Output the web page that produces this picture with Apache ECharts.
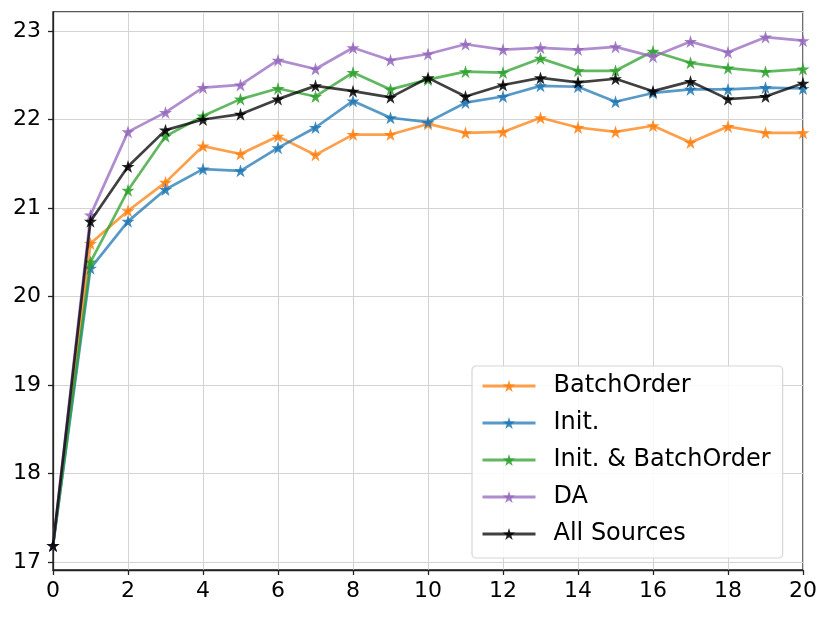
<!DOCTYPE html>
<html>
<head>
<meta charset="utf-8">
<script src="https://cdn.jsdelivr.net/npm/echarts@6/dist/echarts.min.js"></script>
<style>
  html, body { margin: 0; padding: 0; background: #fff; }
  #chart { width: 830px; height: 617px; }
</style>
</head>
<body>
<div id="chart"></div>
<script>
var steps = [0, 1, 2, 3, 4, 5, 6, 7, 8, 9, 10, 11, 12, 13, 14, 15, 16, 17, 18, 19, 20];
var batchOrder = [17.19, 20.60, 20.97, 21.29, 21.70, 21.61, 21.81, 21.60, 21.83, 21.83, 21.95, 21.85, 21.86, 22.02, 21.91, 21.86, 21.93, 21.74, 21.92, 21.85, 21.85];
var init = [17.19, 20.32, 20.85, 21.21, 21.44, 21.42, 21.68, 21.91, 22.21, 22.02, 21.97, 22.19, 22.26, 22.38, 22.37, 22.20, 22.30, 22.34, 22.34, 22.36, 22.35];
var initBatch = [17.19, 20.39, 21.20, 21.81, 22.04, 22.23, 22.35, 22.26, 22.53, 22.34, 22.45, 22.54, 22.53, 22.69, 22.55, 22.55, 22.77, 22.64, 22.58, 22.54, 22.57];
var da = [17.19, 20.92, 21.86, 22.08, 22.36, 22.39, 22.67, 22.57, 22.81, 22.67, 22.74, 22.85, 22.79, 22.81, 22.79, 22.82, 22.71, 22.88, 22.76, 22.93, 22.89];
var allSources = [17.19, 20.85, 21.47, 21.88, 22.00, 22.06, 22.23, 22.38, 22.32, 22.25, 22.47, 22.26, 22.39, 22.47, 22.42, 22.46, 22.32, 22.43, 22.23, 22.26, 22.41];

var names = ['BatchOrder', 'Init.', 'Init. & BatchOrder', 'DA', 'All Sources'];
var values = [batchOrder, init, initBatch, da, allSources];
var colors = ['#ff7f0e', '#1f77b4', '#2ca02c', '#9467bd', '#000000'];

var star = 'path://M100,0L122.45,69.1L195.11,69.1L136.33,111.8L158.78,180.9L100,138.2L41.22,180.9L63.67,111.8L4.89,69.1L77.55,69.1Z';
var font = 'DejaVu Sans';

function pairs(ys) {
    return steps.map(function(x, i) { return [x, ys[i]]; });
}

var series = names.map(function(name, i) {
    return {
        name: name,
        type: 'line',
        data: pairs(values[i]),
        symbol: star,
        symbolSize: 13,
        showAllSymbol: true,
        lineStyle: { width: 2.7, color: colors[i], opacity: 0.75 },
        itemStyle: { color: colors[i], opacity: 0.85 },
        emphasis: { disabled: true },
        z: 2 + i
    };
});

var myChart = echarts.init(document.getElementById('chart'));
var option = {
    animation: false,
    color: colors,
    grid: {
        left: 53, right: 27, top: 12, bottom: 47,
        show: true, borderColor: '#222', borderWidth: 1.3,
        containLabel: false
    },
    legend: {
        data: names,
        orient: 'vertical',
        left: 472, top: 366,
        padding: [7, 12, 11, 9],
        itemWidth: 53, itemHeight: 15, itemGap: 11,
        lineStyle: { width: 3 },
        backgroundColor: 'rgba(255,255,255,0.85)',
        borderColor: '#d6d6d6', borderWidth: 1.2, borderRadius: 4,
        textStyle: { fontFamily: font, fontSize: 24, color: '#000', lineHeight: 26, padding: [0, 0, 0, 13] }
    },
    xAxis: {
        type: 'value', min: 0, max: 20, interval: 2,
        axisLine: { show: true, onZero: false, lineStyle: { color: '#222', width: 1.3 } },
        axisTick: { show: true, length: 5, lineStyle: { color: '#222', width: 1.3 } },
        axisLabel: { fontFamily: font, fontSize: 22, color: '#000', margin: 10 },
        splitLine: { show: true, lineStyle: { color: '#d3d3d3', width: 1 } }
    },
    yAxis: {
        type: 'value', min: 16.913, max: 23.214, splitNumber: 6,
        axisLine: { show: true, lineStyle: { color: '#222', width: 1.3 } },
        axisTick: { show: true, length: 5, lineStyle: { color: '#222', width: 1.3 } },
        axisLabel: {
            fontFamily: font, fontSize: 22, color: '#000', margin: 12,
            showMinLabel: false, showMaxLabel: false,
            formatter: function(v) { return Math.abs(v - Math.round(v)) < 1e-6 ? String(Math.round(v)) : ''; }
        },
        splitLine: { show: true, lineStyle: { color: '#d3d3d3', width: 1 } }
    },
    series: series
};
myChart.setOption(option);
window.onresize = myChart.resize;
</script>
</body>
</html>
